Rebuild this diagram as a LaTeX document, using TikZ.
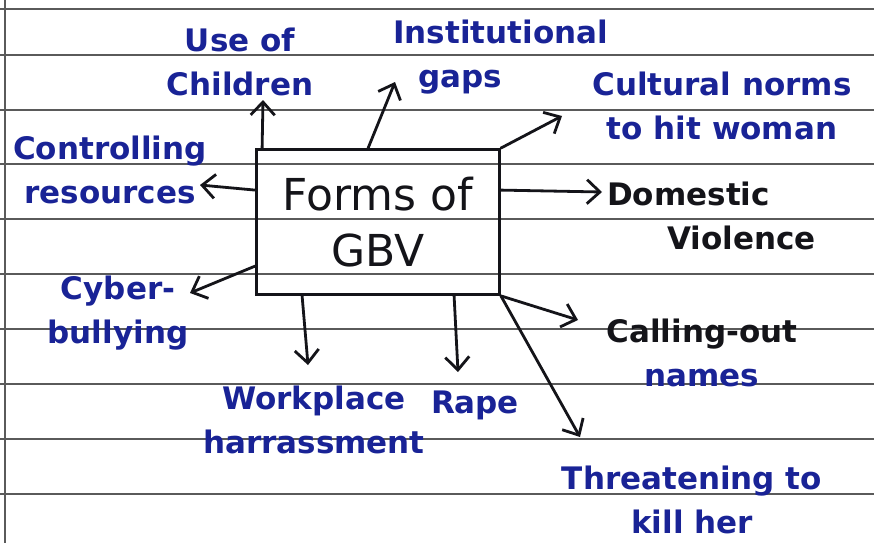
\documentclass[tikz,border=0pt]{standalone}
\usepackage{fontspec}
\setmainfont{DejaVu Sans}
\usetikzlibrary{arrows.meta,calc}
\definecolor{ink}{RGB}{20,20,25}
\definecolor{pen}{RGB}{25,35,150}
\definecolor{rulecol}{RGB}{90,90,90}
\begin{document}
\begin{tikzpicture}[x=1pt,y=-1pt,
  lbl/.style={text=pen, font=\fontsize{31}{44}\selectfont\bfseries, align=center, inner sep=0pt},
  arr/.style={draw=ink, line width=2.8pt, line cap=round,
    -{Straight Barb[length=13pt,width=24pt,line width=2.8pt]}},
  paperline/.style={draw=rulecol, line width=1.2pt}]
\useasboundingbox (0,0) rectangle (874,543);
\fill[white] (0,0) rectangle (874,543);
% ruled paper
\foreach \yy in {9,55,110,164,219,274,329,384,439,494}
  \draw[paperline] (0,\yy) -- (874,\yy);
\draw[paperline] (5,0) -- (5,543);
% central box
\node[draw=ink, line width=2.8pt, minimum width=243pt, minimum height=145pt,
  font=\fontsize{44}{56}\selectfont, align=center, text=ink] (box) at (378,222) {Forms of\\GBV};
% labels
\node[lbl] (use) at (240,62) {Use of\\Children};
\node[lbl, anchor=west, align=left] (inst) at (393,57) {Institutional\\\hspace{25pt}gaps};
\node[lbl] (cult) at (722,106) {Cultural norms\\to hit woman};
\node[lbl] (ctrl) at (110,170) {Controlling\\resources};
\node[lbl, anchor=west, align=left, text=ink] (dom) at (607,216) {Domestic\\\hspace{60pt}Violence};
\node[lbl] (cyber) at (118,313) {Cyber-\\bullying};
\node[lbl] (work) at (314,420) {Workplace\\harrassment};
\node[lbl] (rape) at (475,405) {Rape};
\node[lbl] (call) at (702,353) {\textcolor{ink}{Calling-out}\\names};
\node[lbl] (threat) at (692,500) {Threatening to\\kill her};
% arrow tips
\coordinate (tuse) at (263,100);
\coordinate (tinst) at (395,82);
\coordinate (tcult) at (562,116);
\coordinate (tdom) at (602,192);
\coordinate (tcall) at (578,320);
\coordinate (tthreat) at (580,437);
\coordinate (trape) at (458,372);
\coordinate (twork) at (308,365);
\coordinate (tcyber) at (190,293);
\coordinate (tctrl) at (200,185);
% connectors
\draw[arr] ($(box.north west)+(7,0)$) -- (tuse);
\draw[arr] ($(box.north west)+(113,0)$) -- (tinst);
\draw[arr] (box.north east) -- (tcult);
\draw[arr] ($(box.north east)+(0,42)$) -- (tdom);
\draw[arr] (box.south east) -- (tcall);
\draw[arr] (box.south east) -- (tthreat);
\draw[arr] ($(box.south west)+(199,0)$) -- (trape);
\draw[arr] ($(box.south west)+(47,0)$) -- (twork);
\draw[arr] ($(box.north west)+(0,118)$) -- (tcyber);
\draw[arr] ($(box.north west)+(0,42)$) -- (tctrl);
\end{tikzpicture}
\end{document}
